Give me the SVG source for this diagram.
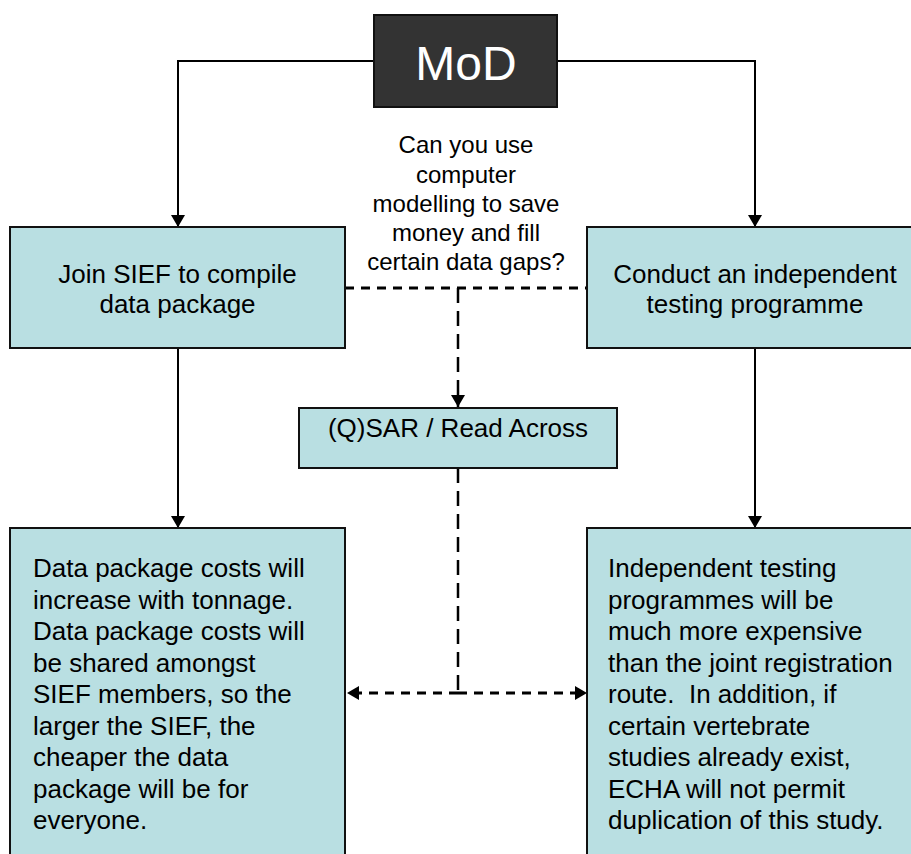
<svg xmlns="http://www.w3.org/2000/svg" width="911" height="854" viewBox="0 0 911 854">
<defs>
<style>
.box{fill:#b9dfe2;stroke:#111;stroke-width:2}
.t{font-family:"Liberation Sans",Arial,sans-serif;font-size:26px;fill:#000}
.q{font-family:"Liberation Sans",Arial,sans-serif;font-size:24px;fill:#000}
.solid{fill:none;stroke:#000;stroke-width:2}
.dh{fill:none;stroke:#000;stroke-width:3;stroke-dasharray:9 7}
.dv{fill:none;stroke:#000;stroke-width:2.5;stroke-dasharray:15 8}
</style>
<marker id="ah" viewBox="0 0 12 14" refX="12" refY="7" markerWidth="12" markerHeight="14" markerUnits="userSpaceOnUse" orient="auto">
<path d="M0,0 L12,7 L0,14 Z" fill="#000"/>
</marker>
</defs>
<rect width="911" height="854" fill="#fff"/>
<g id="connectors">
<path class="solid" d="M374,61 H178 V227" marker-end="url(#ah)"/>
<path class="solid" d="M557,61 H755 V227" marker-end="url(#ah)"/>
<path class="solid" d="M178,348 V528" marker-end="url(#ah)"/>
<path class="solid" d="M755,348 V528" marker-end="url(#ah)"/>
<path class="dh" d="M345,288 H587"/>
<path class="dv" d="M458,288 V407" marker-end="url(#ah)"/>
<path class="dv" d="M458,468 V693"/>
<path class="dh" d="M458,693 H347" marker-end="url(#ah)"/>
<path class="dh" d="M458,693 H587" marker-end="url(#ah)"/>
</g>
<g id="mod">
<rect x="374" y="15" width="183" height="92" fill="#333" stroke="#111" stroke-width="2"/>
<text x="466" y="80" text-anchor="middle" font-family="Liberation Sans,Arial,sans-serif" font-size="48" fill="#fff">MoD</text>
</g>
<g id="question">
<text class="q" text-anchor="middle"><tspan x="466" y="153">Can you use</tspan><tspan x="466" y="183">computer</tspan><tspan x="466" y="212">modelling to save</tspan><tspan x="466" y="241">money and fill</tspan><tspan x="466" y="270">certain data gaps?</tspan></text>
</g>
<g id="join">
<rect class="box" x="10" y="227" width="335" height="121"/>
<text class="t" text-anchor="middle"><tspan x="177.5" y="283">Join SIEF to compile</tspan><tspan x="177.5" y="313">data package</tspan></text>
</g>
<g id="conduct">
<rect class="box" x="587" y="227" width="336" height="121"/>
<text class="t" text-anchor="middle"><tspan x="755" y="283">Conduct an independent</tspan><tspan x="755" y="313">testing programme</tspan></text>
</g>
<g id="qsar">
<rect class="box" x="299" y="408" width="318" height="60"/>
<text class="t" text-anchor="middle" x="458" y="437">(Q)SAR / Read Across</text>
</g>
<g id="sief-costs">
<rect class="box" x="10" y="528" width="335" height="340"/>
<text class="t"><tspan x="33" y="577">Data package costs will</tspan><tspan x="33" y="609">increase with tonnage.</tspan><tspan x="33" y="640">Data package costs will</tspan><tspan x="33" y="672">be shared amongst</tspan><tspan x="33" y="703">SIEF members, so the</tspan><tspan x="33" y="735">larger the SIEF, the</tspan><tspan x="33" y="766">cheaper the data</tspan><tspan x="33" y="798">package will be for</tspan><tspan x="33" y="829">everyone.</tspan></text>
</g>
<g id="independent-costs">
<rect class="box" x="587" y="528" width="336" height="340"/>
<text class="t"><tspan x="608" y="577">Independent testing</tspan><tspan x="608" y="609">programmes will be</tspan><tspan x="608" y="640">much more expensive</tspan><tspan x="608" y="672">than the joint registration</tspan><tspan x="608" y="703">route.&#160; In addition, if</tspan><tspan x="608" y="735">certain vertebrate</tspan><tspan x="608" y="766">studies already exist,</tspan><tspan x="608" y="798">ECHA will not permit</tspan><tspan x="608" y="829">duplication of this study.</tspan></text>
</g>
</svg>
